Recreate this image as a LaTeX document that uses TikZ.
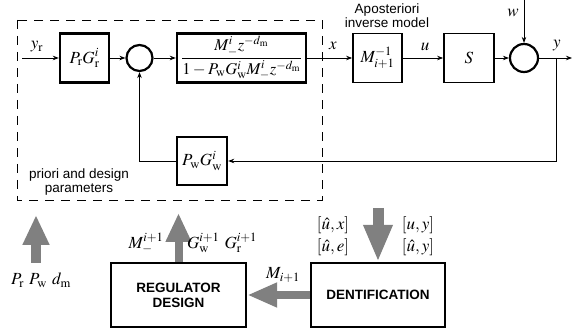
\documentclass[tikz,border=0pt]{standalone}
\usepackage{mathptmx}
\usepackage[no-math]{fontspec}
\newfontfamily\arial{Liberation Sans}
\usetikzlibrary{arrows.meta}
\begin{document}
\begin{tikzpicture}[x=1pt,y=-1pt,font=\fontsize{17}{19}\selectfont,
  blk/.style={draw,line width=2.4pt,minimum width=49pt,minimum height=49pt,inner sep=1pt},
  thinblk/.style={blk,line width=1.8pt},
  sum/.style={circle,draw,line width=2.2pt,minimum size=26pt,inner sep=0pt},
  con/.style={line width=0.8pt,-{Stealth[length=6pt,width=4.5pt]}},
  fat/.style={line width=10pt,draw=gray,-{Triangle[length=30pt,width=25pt,fill=gray]}},
  lab/.style={inner sep=0pt},
  sans/.style={font=\arial\fontsize{13.5}{14}\selectfont,align=center},
  bigbox/.style={draw,line width=2.4pt,minimum width=135pt,minimum height=64pt,
     font=\arial\bfseries\fontsize{13.5}{15}\selectfont,align=center}]
\useasboundingbox (0,0) rectangle (572,336);
% top chain
\coordinate (yrin) at (22,58);
\node[blk] (prg) at (84.5,58) {$P_{\mathrm r}G_{\mathrm r}^{i}$};
\node[sum] (s1) at (139.5,58) {};
\node[blk,minimum width=129pt,inner sep=0.5pt,font=\fontsize{16.5}{18}\selectfont] (fr) at (241.5,58)
  {$\displaystyle\frac{M_-^{i}z^{-d_{\mathrm m}}}{1-P_{\mathrm w}G_{\mathrm w}^{i}M_-^{i}z^{-d_{\mathrm m}}}$};
\node[thinblk] (minv) at (377.5,58) {$M_{i+1}^{-1}$};
\node[thinblk,minimum width=50pt] (S) at (469,58) {$S$};
\node[sum,minimum size=28pt] (s2) at (524,58) {};
\coordinate (wtop) at (524,0);
\coordinate (yout) at (572,58);
\coordinate (tap) at (556,58);
\node[blk,minimum width=50pt,minimum height=48pt] (pwg) at (202,161) {$P_{\mathrm w}G_{\mathrm w}^{i}$};
% labels
\node[lab] (lyr) at (37,47) {$y_{\mathrm r}$};
\node[lab] (lx) at (333,46) {$x$};
\node[lab] (lu) at (425,47) {$u$};
\node[lab] (ly) at (557,46) {$y$};
\node[lab] (lw) at (513,13) {$w$};
% connectors
\draw[con] (yrin) -- (prg.west);
\draw[con] (prg.east) -- (s1.west);
\draw[con] (s1.east) -- (fr.west);
\draw[con] (fr.east) -- (minv.west);
\draw[con] (minv.east) -- (S.west);
\draw[con] (S.east) -- (s2.west);
\draw[con] (wtop) -- (s2.north);
\draw[con] (s2.east) -- (yout);
\draw[con] (tap) |- (pwg.east);
\draw[con] (pwg.west) -| (s1.south);
% dashed region
\draw[line width=0.8pt,dash pattern=on 9pt off 7pt] (17,20) rectangle (322,200);
\node[sans] (apost) at (387,16) {Aposteriori\\inverse model};
\node[sans] (prio) at (79,182.5) {priori and design\\parameters};
% bottom
\node[bigbox] (reg) at (178.5,295) {REGULATOR\\DESIGN};
\node[bigbox,minimum width=134pt] (ide) at (378,295) {DENTIFICATION};
\node[lab] (lpr) at (41,280) {$P_{\mathrm r}\ P_{\mathrm w}\ d_{\mathrm m}$};
\coordinate (a1s) at (36,263);
\coordinate (a1t) at (36,215);
\coordinate (a2t) at (178.5,213);
\coordinate (a4s) at (378,208);
\draw[fat] (a1s) -- (a1t);
\draw[fat,line width=8pt,-{Triangle[length=29pt,width=24pt,fill=gray]}] (reg.north) -- (a2t);
\draw[fat,line width=8pt,-{Triangle[length=30pt,width=23pt,fill=gray]}] (ide.west) -- (reg.east);
\draw[fat,line width=11pt,-{Triangle[length=37pt,width=27pt,fill=gray]}] (a4s) -- (ide.north);
\node[lab] (lm) at (146,243) {$M_-^{i+1}$};
\node[lab] (lg) at (222,243) {$G_{\mathrm w}^{i+1}\ G_{\mathrm r}^{i+1}$};
\node[lab] (lmi) at (283,275) {$M_{i+1}$};
\node[lab] (l1) at (333,225) {$[\hat u,x]$};
\node[lab] (l2) at (333,247) {$[\hat u,e]$};
\node[lab] (l3) at (418,225) {$[u,y]$};
\node[lab] (l4) at (418,247) {$[\hat u,y]$};
\end{tikzpicture}
\end{document}
